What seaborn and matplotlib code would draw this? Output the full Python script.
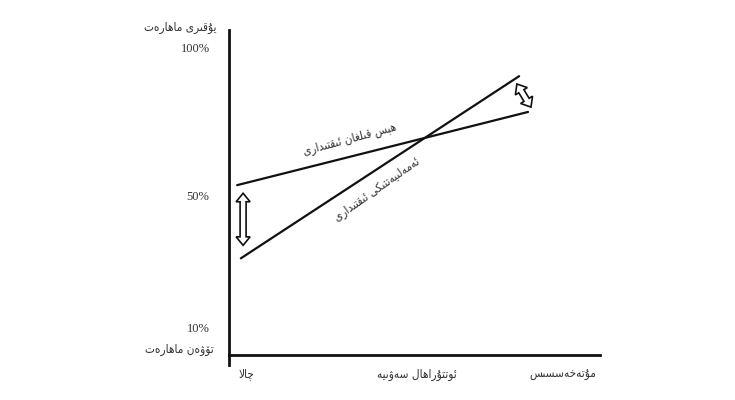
import unicodedata
import numpy as np
import matplotlib
matplotlib.use("Agg")
import matplotlib.pyplot as plt
import pandas as pd
import seaborn as sns
from matplotlib.patches import Polygon
from matplotlib.transforms import Affine2D

# chart values (x: skill level 0..100 along the axis, y: skill score)
level_labels = ["چالا", "ئوتتۇراھال سەۋىيە", "مۇتەخەسسىس"]
level_pos = [4.6, 50.7, 90.0]
pct_labels = ["10%", "50%", "100%"]
pct_pos = [8.6, 49.2, 94.5]
perceived_x = [2.2, 80.6]
perceived_y = [52.3, 74.8]
actual_x = [3.2, 78.2]
actual_y = [29.8, 85.8]
gap_x = [[3.8, 3.8], [77.6, 81.4]]
gap_y = [[49.8, 33.8], [83.4, 76.3]]
top_label = "يۇقىرى ماھارەت"
bottom_label = "تۆۋەن ماھارەت"
perceived_label = "ھېس قىلغان ئىقتىدارى"
actual_label = "ئەمەلىيەتتىكى ئىقتىدارى"

# simple arabic-script shaping (matplotlib has no shaping / bidi)
FORMS = {}
for cp in list(range(0xFB50, 0xFE00)) + list(range(0xFE70, 0xFF00)):
    d = unicodedata.decomposition(chr(cp))
    if not d.startswith("<"):
        continue
    tag, *rest = d.split()
    if tag in ("<isolated>", "<final>", "<initial>", "<medial>"):
        base = "".join(chr(int(h, 16)) for h in rest)
        FORMS.setdefault((base, tag[1:-1]), chr(cp))
FORMS[("ە", "final")] = "\ufeea"
RIGHT = set("اأإآدذرزژوۇۆۈۋۅۉەؤة")


def is_ar(c):
    return "\u0620" <= c <= "\u06ff"


def shape(s):
    res = []
    i = 0
    n = len(s)
    while i < n:
        c = s[i]
        if not is_ar(c):
            res.append(c)
            i += 1
            continue
        jp = i > 0 and is_ar(s[i - 1]) and s[i - 1] not in RIGHT
        if c == "ل" and i + 1 < n and s[i + 1] == "ا":
            res.append(FORMS[("لا", "final" if jp else "isolated")])
            i += 2
            continue
        jn = c not in RIGHT and i + 1 < n and is_ar(s[i + 1])
        form = {(1, 1): "medial", (1, 0): "final", (0, 1): "initial", (0, 0): "isolated"}[(int(jp), int(jn))]
        g = FORMS.get((c, form))
        if g is None:
            g = FORMS.get((c, "final" if jp else "isolated"), c)
        res.append(g)
        i += 1
    return "".join(res[::-1])


sns.set_theme(style="white")
plt.rcParams["font.family"] = ["DejaVu Sans"]
txt = dict(color="#333333", fontsize=8.5, fontstretch="condensed")

df = pd.DataFrame({
    "x": perceived_x + actual_x,
    "y": perceived_y + actual_y,
    "kind": ["perceived"] * 2 + ["actual"] * 2,
})

fig = plt.figure(figsize=(7.35, 4.0), dpi=100)
ax = fig.add_axes([229 / 735, 35 / 400, 371 / 735, 335 / 400])
sns.lineplot(data=df, x="x", y="y", hue="kind", palette=["#111111", "#111111"],
             linewidth=1.6, legend=False, ax=ax)

ax.set_xlim(0, 100)
ax.set_ylim(-3, 100)
for s in ["top", "right"]:
    ax.spines[s].set_visible(False)
ax.spines["bottom"].set_position(("data", 0))
ax.spines["bottom"].set_bounds(0, 100)
for s in ["left", "bottom"]:
    ax.spines[s].set_color("#111111")
    ax.spines[s].set_linewidth(2.0)

ax.set_xticks(level_pos)
ax.set_xticklabels([shape(t) for t in level_labels], **txt)
ax.set_yticks(pct_pos)
ax.set_yticklabels(pct_labels, fontsize=9, color="#333333", family="Liberation Serif")
ax.tick_params(axis="x", length=0, pad=9)
ax.tick_params(axis="y", length=0, pad=14)
ax.set_xlabel("")
ax.set_ylabel("")

ax.annotate(shape(top_label), xy=(0, 100.9), xycoords=("axes fraction", "data"),
            xytext=(-9, 0), textcoords="offset points", ha="right", va="center",
            annotation_clip=False, **txt)
ax.annotate(shape(bottom_label), xy=(0, 1.8), xycoords=("axes fraction", "data"),
            xytext=(-11, 0), textcoords="offset points", ha="right", va="center",
            annotation_clip=False, **txt)

ax.text(32.6, 66.5, shape(perceived_label), rotation=15, ha="center", va="center",
        rotation_mode="anchor", **txt)
ax.text(39.9, 50.8, shape(actual_label), rotation=35, ha="center", va="center",
        rotation_mode="anchor", **txt)

# hollow double-headed arrows showing the gap (shape in pixels, placed by data)
for gx, gy in zip(gap_x, gap_y):
    p0 = ax.transData.transform((gx[0], gy[0]))
    p1 = ax.transData.transform((gx[1], gy[1]))
    d = np.hypot(*(p1 - p0))
    ang = np.arctan2(p1[1] - p0[1], p1[0] - p0[0])
    hl, hw, sw = 8.5, 7.0, 3.0
    a = d / 2
    pts = [(-a, 0), (-a + hl, hw), (-a + hl, sw), (a - hl, sw), (a - hl, hw),
           (a, 0), (a - hl, -hw), (a - hl, -sw), (-a + hl, -sw), (-a + hl, -hw)]
    tr = Affine2D().rotate(ang).translate(*((p0 + p1) / 2))
    ax.add_patch(Polygon(pts, closed=True, facecolor="white", edgecolor="#111111",
                         linewidth=1.2, joinstyle="miter", transform=tr))

fig.savefig("out.png", dpi=100)
